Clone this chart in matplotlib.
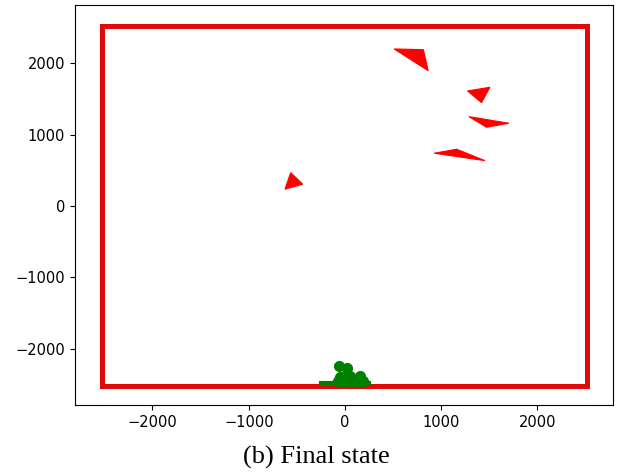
import numpy as np
import matplotlib.pyplot as plt
from matplotlib.patches import Polygon

plt.rcParams['font.family'] = 'DejaVu Sans'

# arena boundary and goal
arena_half = 2520
goal_x = [-250, 250]
goal_y = -2485

# obstacles (triangles), vertices in field coordinates
triangles = [
    [(511, 2199), (815, 2189), (865, 1894)],
    [(1274, 1611), (1506, 1662), (1419, 1447)],
    [(1288, 1251), (1703, 1158), (1471, 1102)],
    [(927, 738), (1160, 794), (1454, 634)],
    [(-564, 466), (-439, 304), (-623, 234)],
]

# robot positions at the end
robots_x = [-59, 24, -52, 0, 52, 156, -70, -18, 34, 86, 138, 190]
robots_y = [-2241, -2273, -2391, -2381, -2381, -2381, -2460, -2460, -2460, -2450, -2450, -2450]

fig = plt.figure(figsize=(6.17, 4.74), dpi=100)
ax = fig.add_axes([75 / 617, 1 - 405 / 474, 538 / 617, 400 / 474])

bx = [-arena_half, arena_half, arena_half, -arena_half, -arena_half]
by = [-arena_half, -arena_half, arena_half, arena_half, -arena_half]
ax.plot(bx, by, color='#e00a0a', lw=3.6, solid_joinstyle='miter')

ax.plot(goal_x, [goal_y, goal_y], color='green', lw=3.0)

for t in triangles:
    ax.add_patch(Polygon(t, closed=True, facecolor='red', edgecolor='red', lw=0.8))

ax.plot(robots_x, robots_y, 'o', color='green', ms=7)

ax.set_xlim(-2805, 2785)
ax.set_ylim(-2790, 2815)
ax.set_xticks([-2000, -1000, 0, 1000, 2000])
ax.set_yticks([-2000, -1000, 0, 1000, 2000])
ax.tick_params(labelsize=10.5)

fig.text(0.512, 1 - 457 / 474, '(b) Final state', ha='center', va='center',
         family='Liberation Serif', fontsize=19)

fig.savefig('out.png', dpi=100)
